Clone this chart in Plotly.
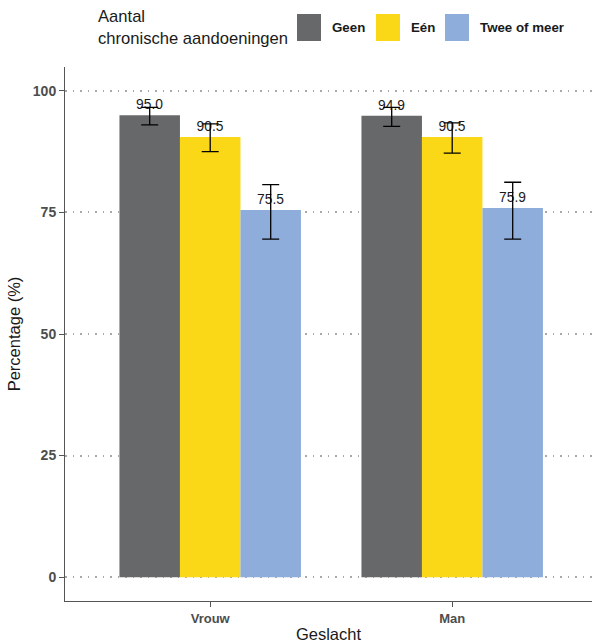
import plotly.graph_objects as go

categories = ["Vrouw", "Man"]
groups = ["Geen", "Eén", "Twee of meer"]
colors = ["#67686a", "#fbd817", "#8fadda"]
values = {
    "Geen": [95.0, 94.9],
    "Eén": [90.5, 90.5],
    "Twee of meer": [75.5, 75.9],
}
err_plus = {
    "Geen": [1.6, 1.7],
    "Eén": [2.7, 2.9],
    "Twee of meer": [5.2, 5.3],
}
err_minus = {
    "Geen": [2.0, 2.2],
    "Eén": [3.0, 3.3],
    "Twee of meer": [6.0, 6.4],
}
y_ticks = [0, 25, 50, 75, 100]

W, H = 592, 643
ML, MR, MT, MB = 65, 0, 67, 42
PW, PH = W - ML - MR, H - MT - MB

FONT = "Liberation Sans, Arial, sans-serif"

fig = go.Figure()
for g, c in zip(groups, colors):
    fig.add_trace(go.Bar(
        name=g, x=categories, y=values[g], marker=dict(color=c, line=dict(width=0)),
        error_y=dict(type="data", symmetric=False, array=err_plus[g], arrayminus=err_minus[g],
                     color="black", thickness=1.3, width=8.5),
        text=[f"{v:.1f}" for v in values[g]], textposition="outside",
        textfont=dict(family=FONT, size=13.8, color="#1a1a1a"),
        cliponaxis=False, showlegend=False, hoverinfo="skip",
    ))

# custom legend
def px_x(p):
    return (p - ML) / PW
def px_y(p):
    return (H - MB - p) / PH

shapes = []
annotations = [dict(text="Aantal<br>chronische aandoeningen", xref="paper", yref="paper",
                    x=px_x(96), y=px_y(28), xanchor="left", yanchor="middle", showarrow=False,
                    align="left", font=dict(family=FONT, size=16.6, color="#1a1a1a"))]
leg_x = [297, 376, 445]
for g, c, lx in zip(groups, colors, leg_x):
    shapes.append(dict(type="rect", xref="paper", yref="paper", x0=px_x(lx), x1=px_x(lx + 24),
                       y0=px_y(41), y1=px_y(14), fillcolor=c, line=dict(width=0)))
    annotations.append(dict(text=f"<b>{g}</b>", xref="paper", yref="paper", x=px_x(lx + 33),
                            y=px_y(28), xanchor="left", yanchor="middle", showarrow=False,
                            font=dict(family=FONT, size=13.3, color="#1a1a1a")))

fig.update_layout(
    width=W, height=H,
    margin=dict(l=ML, r=MR, t=MT, b=MB, autoexpand=False),
    paper_bgcolor="white", plot_bgcolor="white",
    barmode="group", bargap=0.25, bargroupgap=0,
    font=dict(family=FONT),
    shapes=shapes, annotations=annotations,
    xaxis=dict(
        range=[-0.6, -0.6 + PW / 242], showline=True, linecolor="#555555", linewidth=1,
        ticks="outside", ticklen=5, tickcolor="#555555", automargin=False,
        tickfont=dict(family=FONT, size=13, color="#4d4d4d", weight="bold"),
        title=dict(text="Geslacht", font=dict(family=FONT, size=16.5, color="#1a1a1a"), standoff=4),
        showgrid=False, zeroline=False,
    ),
    yaxis=dict(
        range=[-4.9, 104.9], tickvals=y_ticks, showline=True, linecolor="#555555", linewidth=1,
        ticks="outside", ticklen=5, tickcolor="#555555", automargin=False,
        tickfont=dict(family=FONT, size=14, color="#4d4d4d", weight="bold"),
        title=dict(text="Percentage (%)", font=dict(family=FONT, size=16.5, color="#1a1a1a"), standoff=8),
        showgrid=True, gridcolor="#a8a8a8", griddash="1.5px,6px", gridwidth=1.5, zeroline=False,
    ),
)

fig.write_html("out.html", config={"displayModeBar": False},
               post_script="document.body.style.margin='0';document.body.style.overflow='hidden';")
